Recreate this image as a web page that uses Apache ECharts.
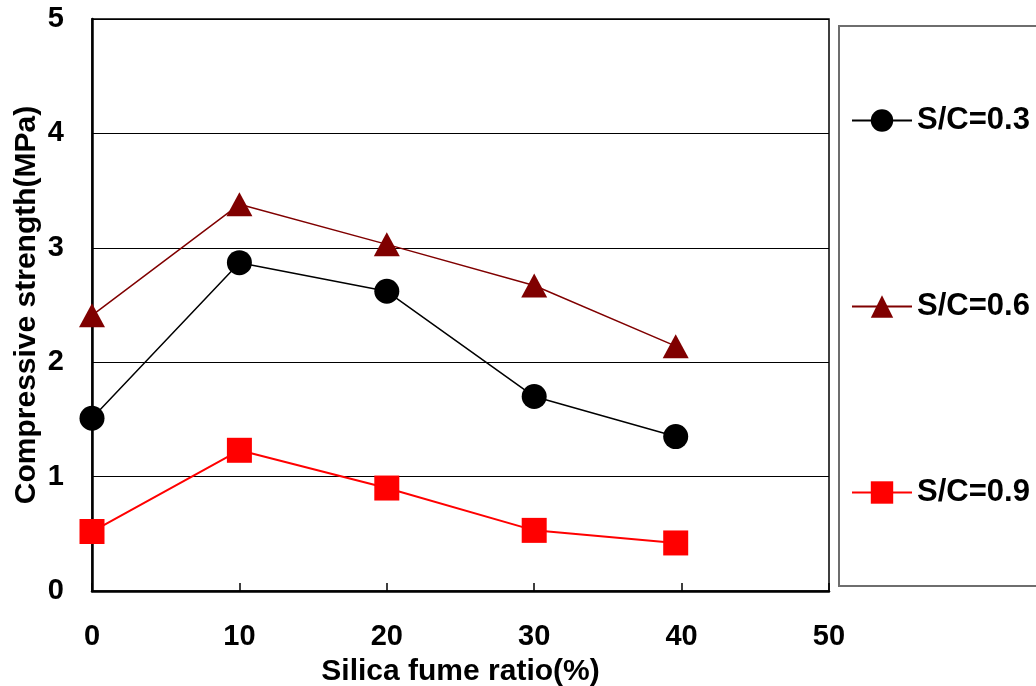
<!DOCTYPE html>
<html><head><meta charset="utf-8">
<script src="https://cdn.jsdelivr.net/npm/echarts@6/dist/echarts.min.js"></script>
<style>html,body{margin:0;padding:0;background:#fff}#c{width:1036px;height:686px}</style>
</head><body><div id="c"></div>
<script>
const xValues = [0, 10, 20, 30, 39.6];
const sc03 = [1.51, 2.87, 2.62, 1.70, 1.35];
const sc06 = [2.41, 3.38, 3.03, 2.67, 2.14];
const sc09 = [0.52, 1.23, 0.90, 0.53, 0.42];
const seriesNames = ['S/C=0.3', 'S/C=0.6', 'S/C=0.9'];
const xTicks = [0, 10, 20, 30, 40, 50];
const yTicks = [0, 1, 2, 3, 4, 5];

const pair = (ys) => xValues.map((x, i) => [x, ys[i]]);
const font = 'Arial, "Liberation Sans", sans-serif';

const chart = echarts.init(document.getElementById('c'), null, {renderer: 'canvas'});
chart.setOption({
  animation: false,
  backgroundColor: '#fff',
  grid: {left: 92, right: 207, top: 19, bottom: 95, outerBoundsMode: 'none', containLabel: false,
         show: true, borderColor: '#000', borderWidth: 1.5, backgroundColor: 'transparent'},
  xAxis: {
    type: 'value', min: xTicks[0], max: xTicks[xTicks.length - 1], interval: 10,
    name: 'Silica fume ratio(%)', nameLocation: 'middle', nameGap: 66, nameMoveOverlap: false,
    nameTextStyle: {fontFamily: font, fontWeight: 'bold', fontSize: 30, color: '#000'},
    axisLine: {show: true, onZero: false, lineStyle: {color: '#000', width: 2.5}},
    axisTick: {show: true, inside: true, length: 8, lineStyle: {color: '#000', width: 1.5}},
    axisLabel: {margin: 31, fontFamily: font, fontWeight: 'bold', fontSize: 29, color: '#000'},
    splitLine: {show: false}
  },
  yAxis: {
    type: 'value', min: yTicks[0], max: yTicks[yTicks.length - 1], interval: 1,
    name: 'Compressive strength(MPa)', nameLocation: 'middle', nameGap: 50, nameMoveOverlap: false,
    nameTextStyle: {fontFamily: font, fontWeight: 'bold', fontSize: 30, color: '#000'},
    axisLine: {show: true, onZero: false, lineStyle: {color: '#000', width: 2.5}},
    axisTick: {show: false},
    axisLabel: {margin: 28, fontFamily: font, fontWeight: 'bold', fontSize: 29, color: '#000'},
    splitLine: {show: true, lineStyle: {color: '#000', width: 1.2}}
  },
  legend: {
    orient: 'vertical', left: 846, top: 100,
    itemWidth: 60, itemHeight: 28, itemGap: 155,
    textStyle: {fontFamily: font, fontWeight: 'bold', fontSize: 31, color: '#000', lineHeight: 30},
    data: seriesNames
  },
  graphic: [{
    type: 'rect', left: 838, top: 25, z: -1,
    shape: {width: 220, height: 560},
    style: {fill: '#fff', stroke: '#6e6e6e', lineWidth: 2}
  }],
  series: [
    {name: seriesNames[0], type: 'line', data: pair(sc03), symbol: 'circle', symbolSize: 25,
     lineStyle: {color: '#000', width: 1.5}, itemStyle: {color: '#000'}},
    {name: seriesNames[1], type: 'line', data: pair(sc06), symbol: 'triangle', symbolSize: [26, 24],
     lineStyle: {color: '#800000', width: 1.5}, itemStyle: {color: '#800000'}},
    {name: seriesNames[2], type: 'line', data: pair(sc09), symbol: 'rect', symbolSize: 25,
     lineStyle: {color: '#ff0000', width: 2}, itemStyle: {color: '#ff0000'}}
  ]
});
</script></body></html>
